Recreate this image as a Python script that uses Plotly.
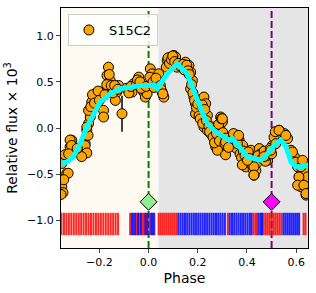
import plotly.graph_objects as go

# ---- data ----
phase = [-0.353, -0.333, -0.353, -0.312, -0.319, -0.299, -0.265, -0.258, -0.251, -0.244,
         -0.237, -0.244, -0.231, -0.224, -0.217, -0.210, -0.197, -0.190, -0.183, -0.183,
         -0.163, -0.169, -0.156, -0.149, -0.142, -0.122, -0.129, -0.135,
         -0.067, -0.061, -0.040, -0.027, -0.020, -0.013, -0.006, 0.007, 0.014, 0.001,
         0.035, 0.041, 0.055, 0.062, 0.076, 0.089, 0.103, 0.110, 0.082, 0.116, 0.150,
         0.164, 0.171, 0.178, 0.171, 0.184, 0.191, 0.198, 0.191, 0.225, 0.232, 0.239,
         0.225, 0.239, 0.252, 0.259, 0.293, 0.300, 0.293, 0.280, 0.273, 0.280, 0.307,
         0.321, 0.334, 0.361, 0.368, 0.382, 0.389, 0.395, 0.416, 0.423, 0.429, 0.450,
         0.457, 0.484, 0.491, 0.504, 0.531, 0.552, 0.565, 0.579, 0.593, 0.606, 0.613,
         0.620, 0.640, 0.647, 0.640,
         -0.319, -0.313, -0.340, -0.327, -0.348, -0.258, -0.251, -0.272, -0.246, -0.251,
         -0.345, -0.356, -0.325, -0.290,
         -0.235, -0.228, -0.220, -0.205, -0.200, -0.178, -0.170, -0.160, -0.152, -0.145,
         -0.138, -0.125, -0.090, -0.080, -0.072, -0.050, -0.045, -0.035, -0.030, -0.010,
         0.005, 0.018, 0.022, 0.030, 0.048, 0.050, 0.058,
         0.072, 0.079, 0.085, 0.093, 0.098, 0.106, 0.120, 0.130, 0.140, 0.145, 0.155,
         0.160, 0.165, 0.175, 0.180, 0.187, 0.195, 0.200, 0.205, 0.210, 0.218, 0.220,
         0.228, 0.235, 0.245, 0.248, 0.262, 0.268, 0.276, 0.285, 0.288, 0.296, 0.302,
         0.310, 0.315, 0.327, 0.340, 0.345, 0.352, 0.357, 0.365, 0.372, 0.378, 0.385,
         0.392, 0.400, 0.405, 0.410, 0.420, 0.425, 0.436, 0.440, 0.445, 0.462, 0.470,
         0.475, 0.480, 0.495, 0.500, 0.510, 0.515, 0.530, 0.558, 0.517, 0.497, 0.469,
         0.428, 0.428, 0.381, 0.402, 0.361, 0.366, 0.313, 0.313, 0.325, 0.300, 0.585,
         0.599, 0.619, 0.611, 0.606, 0.631, 0.640, 0.626]
flux = [-0.385, -0.493, -0.637, -0.133, -0.205, -0.259, -0.241, -0.169, -0.025, 0.047,
        0.119, 0.191, 0.281, 0.353, 0.371, 0.317, 0.389, 0.335, 0.191, 0.119,
        0.659, 0.569, 0.515, 0.443, 0.425, 0.461, 0.389, 0.299,
        0.389, 0.479, 0.551, 0.461, 0.389, 0.335, 0.371, 0.641, 0.587, 0.461,
        0.479, 0.587, 0.389, 0.335, 0.731, 0.767, 0.785, 0.767, 0.695, 0.659, 0.713,
        0.677, 0.605, 0.515, 0.425, 0.335, 0.263, 0.191, 0.155, 0.335, 0.263, 0.137,
        0.011, -0.025, -0.061, 0.011, 0.119, 0.065, -0.025, -0.133, -0.205, -0.241, -0.097,
        -0.205, -0.151, -0.079, -0.133, -0.187, -0.367, -0.421, -0.241, -0.313, -0.511, -0.223,
        -0.277, -0.349, -0.259, -0.187, -0.025, -0.061, -0.115, -0.241, -0.313, -0.421, -0.529,
        -0.637, -0.457, -0.529, -0.727,
        -0.13, -0.19, -0.29, -0.49, -0.70, -0.19, -0.27, -0.31, -0.08, 0.01,
        -0.56, -0.72, -0.28, -0.22,
        0.23, 0.36, 0.27, 0.40, 0.30, 0.36, 0.47, 0.58, 0.46, 0.38,
        0.46, 0.42, 0.43, 0.38, 0.45, 0.47, 0.52, 0.50, 0.43, 0.45,
        0.55, 0.50, 0.44, 0.54, 0.46, 0.42, 0.37,
        0.66, 0.76, 0.70, 0.74, 0.78, 0.72, 0.70, 0.67, 0.69, 0.63, 0.68,
        0.62, 0.58, 0.47, 0.38, 0.30, 0.22, 0.26, 0.13, 0.10, 0.25, 0.05,
        0.20, 0.08, 0.02, -0.04, -0.10, -0.16, -0.06, 0.04, -0.14, 0.10, -0.05,
        -0.17, -0.11, -0.19, -0.12, -0.06, -0.14, -0.22, -0.10, -0.28, -0.32, -0.25,
        -0.30, -0.36, -0.26, -0.33, -0.40, -0.45, -0.46, -0.38, -0.30, -0.33, -0.25,
        -0.36, -0.30, -0.22, -0.28, -0.10, -0.04, -0.025, -0.08, -0.17, -0.24, -0.31,
        -0.42, -0.51, -0.40, -0.35, -0.17, -0.08, -0.15, -0.29, -0.21, 0.10, -0.26,
        -0.37, -0.42, -0.53, -0.62, -0.62, -0.71, -0.35]

err_phase = [-0.108]
err_flux = [0.155]
err_size = [0.195]

model_phase = [-0.356, -0.333, -0.306, -0.278, -0.251, -0.224, -0.197, -0.156, -0.115, -0.074,
               -0.033, 0.001, 0.020, 0.035, 0.076, 0.116, 0.157, 0.178, 0.198, 0.218,
               0.239, 0.273, 0.307, 0.327, 0.341, 0.361, 0.402, 0.429, 0.457, 0.484,
               0.511, 0.538, 0.559, 0.579, 0.600, 0.620, 0.648]
model_flux = [-0.385, -0.367, -0.313, -0.169, 0.011, 0.155, 0.281, 0.371, 0.425, 0.443,
              0.461, 0.461, 0.470, 0.425, 0.587, 0.695, 0.587, 0.443, 0.299, 0.173,
              0.047, -0.043, -0.097, -0.133, -0.115, -0.187, -0.313, -0.331, -0.349, -0.277,
              -0.187, -0.133, -0.205, -0.367, -0.421, -0.421, -0.405]

red_ticks = [-0.354, -0.344, -0.334, -0.324, -0.314, -0.304, -0.294, -0.284, -0.274, -0.264,
             -0.254, -0.244, -0.234, -0.224, -0.214, -0.204, -0.194, -0.184, -0.174, -0.164,
             -0.154, -0.144, -0.134, -0.124,
             -0.075, -0.049, -0.037, -0.025, -0.019, -0.010, 0.005,
             0.041, 0.049, 0.057, 0.065, 0.073, 0.081, 0.089, 0.097, 0.105, 0.113,
             0.322, 0.426, 0.434, 0.440,
             0.468, 0.476, 0.484, 0.492, 0.500, 0.508, 0.516, 0.524, 0.532, 0.540,
             0.630, 0.638]
blue_ticks = [-0.068, -0.062, -0.055, -0.043, -0.031, -0.013, -0.004, 0.011, 0.017, 0.023,
              0.121, 0.130, 0.139, 0.148, 0.157, 0.166, 0.175, 0.184, 0.193, 0.202,
              0.211, 0.220, 0.229, 0.238, 0.247, 0.256, 0.265, 0.274, 0.283, 0.292,
              0.301, 0.310,
              0.330, 0.339, 0.348, 0.357, 0.366, 0.375, 0.384, 0.393, 0.402, 0.411, 0.418,
              0.447, 0.455, 0.461,
              0.548, 0.556, 0.564, 0.572, 0.580, 0.588, 0.596, 0.604, 0.612]
tick_level = -1.04

ref_phases = [0.0, 0.5]
ref_flux = [-0.8, -0.8]
ref_colors = ["#90ee90", "#ff00ff"]
ref_line_colors = ["green", "purple"]

x_range = [-0.356, 0.648]
y_range = [-1.3, 1.3]
split_phase = 0.04
x_tickvals = [-0.2, 0.0, 0.2, 0.4, 0.6]
x_ticktext = ["\u22120.2", "0.0", "0.2", "0.4", "0.6"]
y_tickvals = [-1.0, -0.5, 0.0, 0.5, 1.0]
y_ticktext = ["\u22121.0", "\u22120.5", "0.0", "0.5", "1.0"]

# ---- figure ----
fig = go.Figure()

shapes = [
    dict(type="rect", xref="x", yref="paper", x0=x_range[0], x1=split_phase, y0=0, y1=1,
         fillcolor="#fefaf1", line=dict(width=0), layer="below"),
    dict(type="rect", xref="x", yref="paper", x0=split_phase, x1=x_range[1], y0=0, y1=1,
         fillcolor="#e5e5e5", line=dict(width=0), layer="below"),
]
for p, c in zip(ref_phases, ref_line_colors):
    shapes.append(dict(type="line", xref="x", yref="paper", x0=p, x1=p, y0=0, y1=1,
                       line=dict(color=c, width=2, dash="7px,3px"), layer="below"))

# tick strip
fig.add_trace(go.Scatter(x=red_ticks, y=[tick_level] * len(red_ticks), mode="markers",
                         marker=dict(symbol="line-ns", size=16,
                                     line=dict(width=2, color="rgba(255,0,0,0.85)")),
                         showlegend=False, hoverinfo="skip"))
fig.add_trace(go.Scatter(x=blue_ticks, y=[tick_level] * len(blue_ticks), mode="markers",
                         marker=dict(symbol="line-ns", size=16,
                                     line=dict(width=2, color="rgba(0,0,255,0.85)")),
                         showlegend=False, hoverinfo="skip"))

# reference diamonds
fig.add_trace(go.Scatter(x=ref_phases, y=ref_flux, mode="markers",
                         marker=dict(symbol="diamond", size=13, color=ref_colors,
                                     line=dict(color="black", width=1)),
                         showlegend=False, hoverinfo="skip"))

# error bar point
fig.add_trace(go.Scatter(x=err_phase, y=err_flux, mode="markers",
                         error_y=dict(type="data", array=err_size, color="black",
                                      thickness=1.5, width=0),
                         marker=dict(size=10, color="orange", line=dict(color="black", width=1)),
                         showlegend=False))

# data
fig.add_trace(go.Scatter(x=phase, y=flux, mode="markers", name="S15C2",
                         marker=dict(size=10, color="orange", line=dict(color="black", width=1))))

# model
fig.add_trace(go.Scatter(x=model_phase, y=model_flux, mode="lines",
                         line=dict(color="cyan", width=5), showlegend=False))

fig.update_layout(
    width=316, height=293,
    margin=dict(l=61, r=8, t=8, b=45),
    paper_bgcolor="white", plot_bgcolor="white",
    font=dict(family="DejaVu Sans", size=11, color="black"),
    shapes=shapes,
    legend=dict(x=0.028, y=0.975, xanchor="left", yanchor="top",
                bgcolor="rgba(255,255,255,0.85)", bordercolor="#cccccc", borderwidth=1,
                font=dict(size=13), itemwidth=30),
    xaxis=dict(range=x_range, showgrid=False, zeroline=False, showline=True,
               linecolor="black", linewidth=1, mirror=True, ticks="outside",
               ticklen=4, tickwidth=1, tickvals=x_tickvals, ticktext=x_ticktext,
               automargin=False,
               title=dict(text="Phase", font=dict(size=14), standoff=4)),
    yaxis=dict(range=y_range, showgrid=False, zeroline=False, showline=True,
               linecolor="black", linewidth=1, mirror=True, ticks="outside",
               ticklen=4, tickwidth=1, tickvals=y_tickvals, ticktext=y_ticktext,
               automargin=False,
               title=dict(text="Relative flux \u00d7 10<sup>3</sup>", font=dict(size=14),
                          standoff=6)),
)

fig.write_html("out.html", config={"displayModeBar": False},
               post_script="document.body.style.margin='0';document.body.style.padding='0';")
